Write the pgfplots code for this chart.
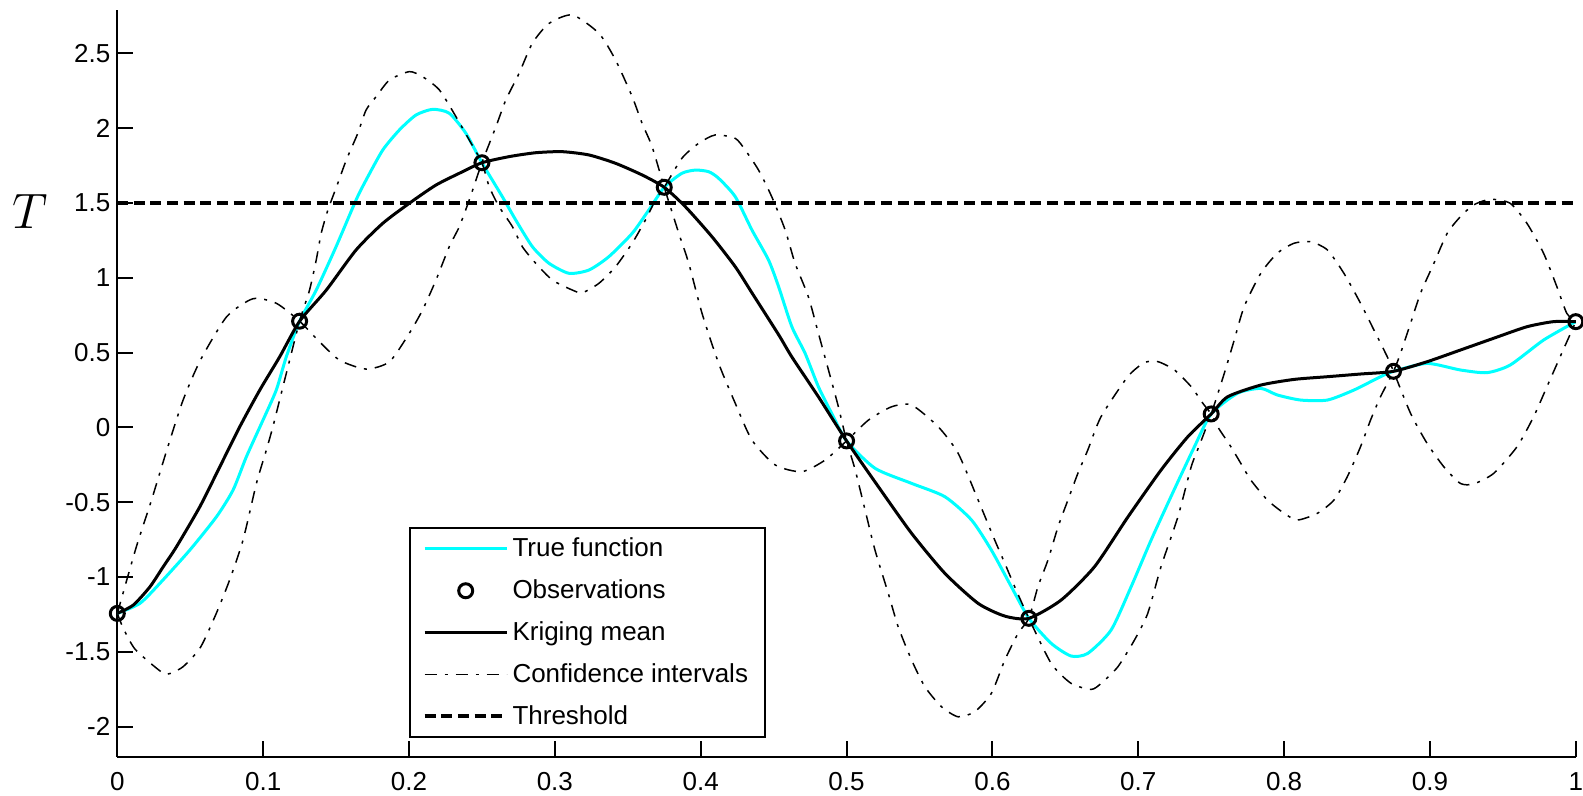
\documentclass[border=0pt]{standalone}
\usepackage{pgfplots}
\pgfplotsset{compat=1.18}
\usepackage{fontspec}
\setmainfont{Liberation Sans}
\definecolor{cy}{RGB}{0,255,255}

\pgfplotstableread{
x y
0 -1.243
0.0155 -1.176
0.0292 -1.042
0.0497 -0.82
0.068 -0.597
0.0794 -0.418
0.0885 -0.196
0.0999 0.049
0.109 0.250
0.1159 0.473
0.125 0.71
0.1364 0.918
0.150 1.208
0.1637 1.520
0.1706 1.654
0.182 1.854
0.1934 1.988
0.2048 2.088
0.2162 2.126
0.2276 2.10
0.239 1.966
0.25 1.769
0.264 1.542
0.2732 1.386
0.2846 1.208
0.296 1.097
0.3097 1.030
0.3234 1.052
0.337 1.141
0.353 1.297
0.3644 1.453
0.375 1.605
0.387 1.698
0.3964 1.720
0.4055 1.709
0.4123 1.665
0.4237 1.542
0.4351 1.320
0.4465 1.119
0.4534 0.941
0.4625 0.673
0.4716 0.495
0.4807 0.272
0.4898 0.094
0.5 -0.09
0.5195 -0.273
0.5446 -0.374
0.5674 -0.463
0.5857 -0.619
0.5993 -0.820
0.613 -1.065
0.625 -1.276
0.6403 -1.443
0.654 -1.528
0.6654 -1.510
0.6814 -1.354
0.6951 -1.065
0.7088 -0.753
0.7224 -0.463
0.7385 -0.129
0.75 0.09
0.768 0.228
0.784 0.261
0.7953 0.217
0.8113 0.183
0.8297 0.183
0.8479 0.250
0.8661 0.339
0.875 0.375
0.898 0.428
0.9208 0.384
0.939 0.366
0.955 0.417
0.9779 0.584
1.0 0.707
}\truefn

\pgfplotstableread{
x y
0 -1.243
0.011 -1.187
0.0224 -1.065
0.0315 -0.931
0.0406 -0.797
0.0566 -0.530
0.0703 -0.263
0.084 0.005
0.0977 0.250
0.1114 0.473
0.125 0.71
0.1433 0.918
0.1637 1.186
0.182 1.364
0.2002 1.498
0.2185 1.620
0.2367 1.709
0.25 1.769
0.2687 1.810
0.2869 1.836
0.3051 1.843
0.3234 1.821
0.3417 1.765
0.3599 1.687
0.375 1.605
0.3895 1.475
0.4077 1.275
0.4237 1.074
0.4351 0.900
0.4534 0.620
0.4625 0.471
0.4807 0.205
0.5 -0.09
0.5218 -0.396
0.5446 -0.708
0.5674 -0.975
0.5902 -1.176
0.6085 -1.261
0.625 -1.276
0.6471 -1.154
0.67 -0.931
0.6928 -0.6
0.7156 -0.285
0.734 -0.062
0.75 0.09
0.7613 0.205
0.784 0.283
0.8069 0.321
0.8297 0.339
0.8524 0.357
0.875 0.375
0.898 0.439
0.9208 0.517
0.9437 0.596
0.9665 0.673
0.9847 0.707
1.0 0.707
}\krig

\pgfplotstableread{
x y
0 -1.243
0.013 -0.80
0.023 -0.50
0.034 -0.15
0.045 0.18
0.057 0.45
0.075 0.74
0.093 0.86
0.109 0.83
0.125 0.71
0.1375 0.584
0.1523 0.450
0.1706 0.390
0.1866 0.439
0.2002 0.629
0.2093 0.785
0.2185 0.985
0.2276 1.208
0.2345 1.342
0.2413 1.520
0.25 1.769
0.2596 2.01
0.2664 2.189
0.2755 2.367
0.2846 2.568
0.296 2.70
0.312 2.757
0.3302 2.634
0.3416 2.456
0.353 2.211
0.3598 2.033
0.3667 1.876
0.375 1.605
0.385 1.297
0.3918 1.097
0.4009 0.763
0.4123 0.428
0.4237 0.161
0.4351 -0.084
0.4511 -0.251
0.4693 -0.296
0.4853 -0.218
0.5 -0.09
0.515 0.049
0.5309 0.138
0.5446 0.150
0.5628 0.005
0.5765 -0.173
0.5902 -0.485
0.6016 -0.753
0.6085 -0.908
0.6153 -1.065
0.625 -1.276
0.6403 -1.577
0.654 -1.711
0.6677 -1.751
0.6745 -1.711
0.686 -1.60
0.6974 -1.421
0.7065 -1.243
0.7156 -0.931
0.7272 -0.597
0.7363 -0.263
0.7419 -0.12
0.75 0.09
0.759 0.362
0.7658 0.584
0.7726 0.807
0.784 1.030
0.7953 1.164
0.8068 1.231
0.8183 1.241
0.8297 1.186
0.841 1.030
0.8524 0.830
0.8616 0.651
0.8707 0.473
0.875 0.375
0.8867 0.094
0.898 -0.106
0.9095 -0.263
0.9208 -0.374
0.9299 -0.378
0.9437 -0.307
0.9597 -0.129
0.9711 0.072
0.9802 0.272
0.9893 0.473
1.0 0.707
}\ciA

\pgfplotstableread{
x y
0 -1.243
0.004 -1.34
0.012 -1.48
0.027 -1.61
0.034 -1.65
0.045 -1.60
0.057 -1.47
0.068 -1.24
0.077 -1.02
0.0862 -0.753
0.0954 -0.374
0.1022 -0.151
0.1067 0.005
0.1113 0.183
0.1159 0.362
0.125 0.71
0.1318 0.918
0.1364 1.119
0.1398 1.297
0.1444 1.453
0.1512 1.632
0.157 1.787
0.1649 1.966
0.1706 2.122
0.1775 2.211
0.1866 2.322
0.2002 2.378
0.2093 2.344
0.2208 2.256
0.2322 2.077
0.2413 1.921
0.25 1.769
0.2550 1.609
0.2618 1.475
0.2709 1.342
0.2777 1.208
0.2869 1.097
0.2983 0.985
0.312 0.918
0.3188 0.900
0.3302 0.963
0.3416 1.074
0.353 1.231
0.3621 1.386
0.369 1.520
0.375 1.605
0.3872 1.80
0.3986 1.899
0.41 1.955
0.4237 1.932
0.4305 1.854
0.4396 1.721
0.4487 1.542
0.4579 1.320
0.4647 1.097
0.4738 0.874
0.4807 0.629
0.4876 0.384
0.4944 0.138
0.5 -0.09
0.5058 -0.28
0.5127 -0.552
0.5195 -0.820
0.5286 -1.109
0.5354 -1.332
0.5446 -1.555
0.5537 -1.733
0.5651 -1.867
0.5765 -1.934
0.5879 -1.900
0.5993 -1.777
0.6085 -1.555
0.6176 -1.376
0.625 -1.276
0.6312 -1.065
0.6381 -0.886
0.645 -0.664
0.6518 -0.485
0.6586 -0.307
0.6654 -0.151
0.6745 0.072
0.6928 0.339
0.7042 0.433
0.7134 0.440
0.7248 0.384
0.7363 0.272
0.7443 0.161
0.75 0.09
0.7544 0.005
0.7635 -0.129
0.7703 -0.24
0.7772 -0.352
0.7885 -0.485
0.8 -0.574
0.8091 -0.619
0.8228 -0.574
0.8342 -0.485
0.8433 -0.33
0.8524 -0.129
0.8593 0.05
0.8661 0.205
0.875 0.375
0.8798 0.495
0.8867 0.696
0.8935 0.896
0.9027 1.097
0.9118 1.297
0.9208 1.408
0.9299 1.487
0.9414 1.525
0.955 1.498
0.9665 1.364
0.9779 1.164
0.987 0.941
0.9938 0.763
1.0 0.707
}\ciB

\pgfplotstableread{
x y
0 -1.243
0.125 0.71
0.25 1.769
0.375 1.605
0.5 -0.09
0.625 -1.276
0.75 0.09
0.875 0.375
1 0.707
}\obs

\begin{document}
\begin{tikzpicture}
\begin{axis}[
  scale only axis,
  width=729.25pt, height=373.3pt,
  xmin=0, xmax=1, ymin=-2.2, ymax=2.79,
  axis lines*=left,
  axis line style={line width=1pt},
  xtick={0,0.1,0.2,0.3,0.4,0.5,0.6,0.7,0.8,0.9,1},
  ytick={-2,-1.5,-1,-0.5,0,0.5,1,1.5,2,2.5},
  tick align=inside,
  major tick length=8pt,
  tick style={line width=1pt, black},
  tick label style={font=\fontsize{13}{15}\selectfont},
  xticklabel style={yshift=-4.5pt, inner xsep=0pt},
  /pgf/number format/assume math mode=true,
  legend style={at={(0.2,0.0248)}, anchor=south west, draw=black,
    line width=0.9pt, fill=white, font=\fontsize{13}{15}\selectfont,
    row sep=6pt, inner xsep=6.5pt, inner ysep=3pt},
  legend cell align=left,
  legend image code/.code={\draw[mark repeat=2,mark phase=2,#1] plot coordinates {(0pt,0pt) (20.5pt,0pt) (41pt,0pt)};},
]
\addlegendimage{cy, line width=1.5pt}
\addlegendentry{True function}
\addlegendimage{only marks, mark=o, mark size=3.5pt, mark options={line width=1.5pt, black}}
\addlegendentry{Observations}
\addlegendimage{black, line width=1.5pt}
\addlegendentry{Kriging mean}
\addlegendimage{black, line width=0.75pt, dash pattern=on 6pt off 4pt on 1.5pt off 4pt}
\addlegendentry{Confidence intervals}
\addlegendimage{black, line width=1.8pt, dash pattern=on 5.5pt off 2.8pt}
\addlegendentry{Threshold}

\addplot[forget plot, cy, line width=1.5pt, smooth, tension=0.4] table[x=x,y=y] {\truefn};
\addplot[forget plot, black, line width=0.75pt, smooth, tension=0.4, dash pattern=on 6pt off 4pt on 1.5pt off 4pt] table[x=x,y=y] {\ciA};
\addplot[forget plot, black, line width=0.75pt, smooth, tension=0.4, dash pattern=on 6pt off 4pt on 1.5pt off 4pt] table[x=x,y=y] {\ciB};
\addplot[forget plot, black, line width=1.5pt, smooth, tension=0.4] table[x=x,y=y] {\krig};
\addplot[forget plot, black, line width=1.8pt, dash pattern=on 5.5pt off 2.8pt] coordinates {(0,1.5) (1,1.5)};
\addplot[forget plot, only marks, mark=o, mark size=3.5pt, mark options={line width=1.5pt, black}] table[x=x,y=y] {\obs};

\coordinate (Tpos) at (axis cs:0,1.5);
\coordinate (SW) at (rel axis cs:0,0);
\coordinate (NE) at (rel axis cs:1,1);
\end{axis}
\node[anchor=center, xshift=-43.65pt, yshift=-4.5pt, inner sep=0pt] at (Tpos) {\fontsize{23}{23}\selectfont $T$};
\pgfresetboundingbox
\path[use as bounding box] ([shift={(-58.65pt,-19.25pt)}]SW) rectangle ([shift={(3.6pt,5pt)}]NE);
\end{tikzpicture}
\end{document}
